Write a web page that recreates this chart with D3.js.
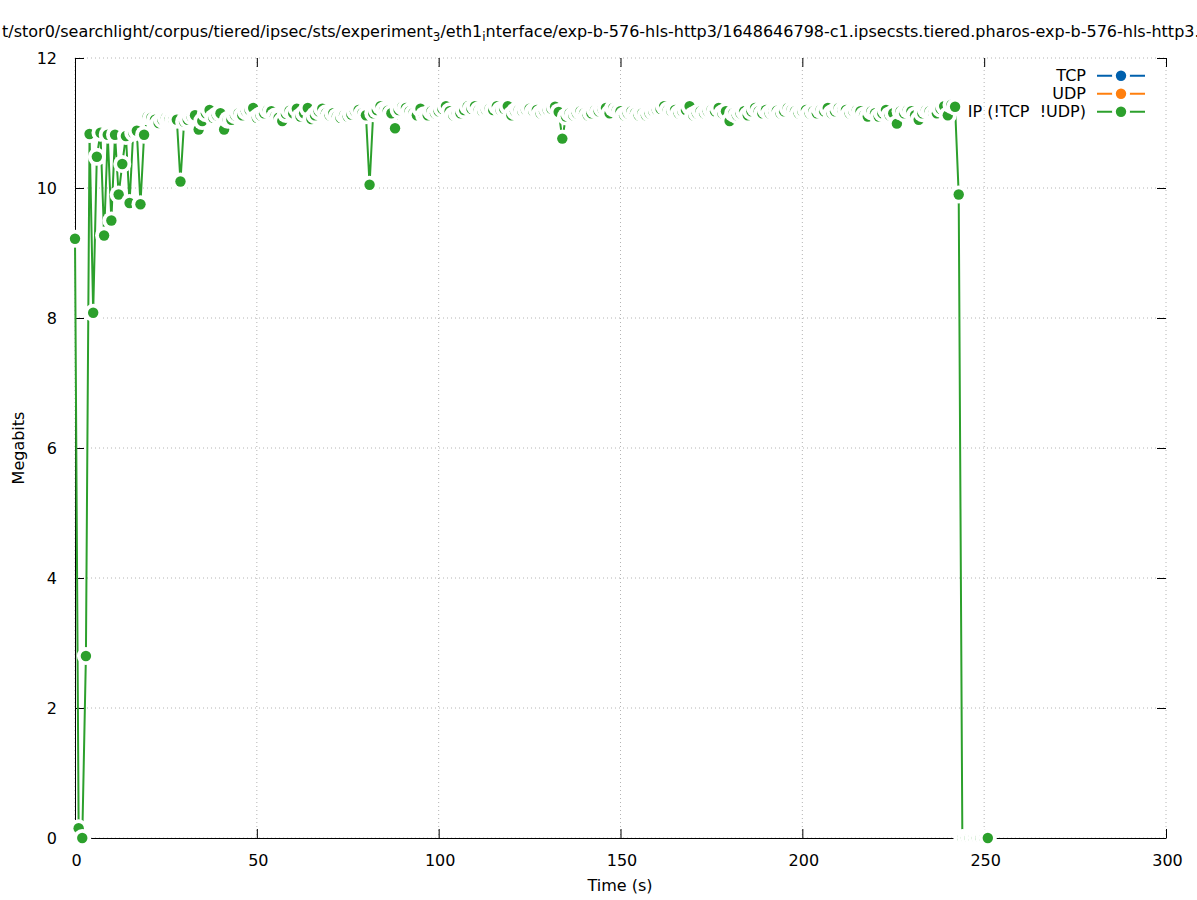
<!DOCTYPE html>
<html>
<head>
<meta charset="utf-8">
<script src="https://cdn.jsdelivr.net/npm/d3@7"></script>
<style>
  body { margin: 0; background: #fff; }
  text { font-family: "DejaVu Sans", sans-serif; font-size: 16px; fill: #000; }
</style>
</head>
<body>
<script>
// tick labels
var xTicks = [0, 50, 100, 150, 200, 250, 300];
var yTicks = [0, 2, 4, 6, 8, 10, 12];

// legend entries
var legendNames = ["TCP", "UDP", "IP (!TCP  !UDP)"];
var legendColors = ["#0060ad", "#ff7f0e", "#2ca02c"];

// IP (!TCP !UDP) throughput, one sample per second starting at t = 0
var ipMbits = [
  9.22, 0.15, 0, 2.8, 10.83, 8.08, 10.48, 10.85, 9.27, 10.82,
  9.5, 10.82, 9.9, 10.37, 10.8, 9.77, 10.85, 10.88, 9.75, 10.82,
  11.1, 11.08, 11.05, 11.0, 11.05, 11.08, 11.06, 11.05, 11.05, 10.1,
  11.02, 11.05, 11.1, 11.12, 10.9, 11.03, 11.15, 11.2, 11.08, 11.12,
  11.15, 10.9, 11.05, 11.05, 11.12, 11.15, 11.12, 11.18, 11.2, 11.23,
  11.08, 11.12, 11.15, 11.2, 11.18, 11.1, 11.08, 11.03, 11.14, 11.19,
  11.15, 11.22, 11.1, 11.15, 11.23, 11.06, 11.12, 11.18, 11.22, 11.15,
  11.12, 11.15, 11.1, 11.08, 11.12, 11.1, 11.13, 11.18, 11.2, 11.15,
  11.12, 10.05, 11.15, 11.2, 11.26, 11.2, 11.19, 11.15, 10.92, 11.2,
  11.25, 11.23, 11.18, 11.15, 11.12, 11.22, 11.12, 11.12, 11.18, 11.15,
  11.18, 11.22, 11.26, 11.18, 11.12, 11.15, 11.15, 11.2, 11.26, 11.22,
  11.26, 11.2, 11.18, 11.2, 11.22, 11.2, 11.26, 11.2, 11.22, 11.26,
  11.12, 11.18, 11.2, 11.18, 11.2, 11.22, 11.18, 11.2, 11.15, 11.18,
  11.2, 11.22, 11.25, 11.17, 10.76, 11.1, 11.15, 11.12, 11.15, 11.18,
  11.15, 11.12, 11.15, 11.2, 11.18, 11.22, 11.23, 11.15, 11.23, 11.2,
  11.18, 11.12, 11.15, 11.18, 11.15, 11.12, 11.15, 11.12, 11.15, 11.18,
  11.2, 11.22, 11.26, 11.2, 11.18, 11.2, 11.15, 11.18, 11.2, 11.26,
  11.12, 11.15, 11.18, 11.15, 11.18, 11.2, 11.18, 11.23, 11.15, 11.18,
  11.03, 11.15, 11.12, 11.15, 11.18, 11.12, 11.18, 11.23, 11.18, 11.15,
  11.2, 11.15, 11.18, 11.19, 11.15, 11.18, 11.23, 11.2, 11.18, 11.15,
  11.18, 11.2, 11.15, 11.18, 11.15, 11.2, 11.18, 11.23, 11.15, 11.18,
  11.23, 11.2, 11.2, 11.15, 11.18, 11.2, 11.18, 11.12, 11.1, 11.18,
  11.15, 11.1, 11.15, 11.2, 11.12, 11.15, 10.99, 11.18, 11.15, 11.2,
  11.18, 11.12, 11.05, 11.15, 11.2, 11.18, 11.15, 11.15, 11.22, 11.26,
  11.12, 11.28, 11.25, 9.9, 0, 0, 0, 0, 0, 0,
  0, 0
];

// title pieces, [text, subscript?]
var titleParts = [
  ["t/stor0/searchlight/corpus/tiered/ipsec/sts/experiment", false],
  ["3", true],
  ["/eth1", false],
  ["i", true],
  ["nterface/exp-b-576-hls-http3/1648646798-c1.ipsecsts.tiered.pharos-exp-b-576-hls-http3.", false]
];

var margin = {top: 58, right: 31, bottom: 62, left: 75},
    width = 1197 - margin.left - margin.right,
    height = 900 - margin.top - margin.bottom;

var root = d3.select("body").append("svg")
    .attr("width", 1197)
    .attr("height", 900);

var svg = root.append("g")
    .attr("transform", "translate(" + margin.left + "," + margin.top + ")");

var x = d3.scaleLinear().domain([0, 300]).range([0, width]);
var y = d3.scaleLinear().domain([0, 12]).range([height, 0]);

var tickLen = 9;
var green = legendColors[2];

// grid (dotted)
var grid = svg.append("g").attr("stroke", "#b4b4b4").attr("stroke-width", 1)
    .attr("stroke-dasharray", "1,3");
grid.selectAll(".gx").data(xTicks).enter().append("line")
    .attr("x1", function(d) { return x(d); }).attr("x2", function(d) { return x(d); })
    .attr("y1", 0).attr("y2", height);
grid.selectAll(".gy").data(yTicks).enter().append("line")
    .attr("y1", function(d) { return y(d); }).attr("y2", function(d) { return y(d); })
    .attr("x1", 0).attr("x2", width);

// x axis (ticks inward) + mirror on top
svg.append("g")
    .attr("transform", "translate(0," + height + ")")
    .call(d3.axisBottom(x).tickValues(xTicks).tickSizeInner(-tickLen).tickSizeOuter(0).tickPadding(tickLen + 8))
    .call(function(g) {
      g.select(".domain").attr("stroke", "#000");
      g.selectAll("text").attr("font-size", 16).attr("font-family", "DejaVu Sans").attr("dx", 1);
    });
svg.append("g")
    .call(d3.axisTop(x).tickValues(xTicks).tickSizeInner(-tickLen).tickSizeOuter(0).tickFormat(""))
    .call(function(g) { g.select(".domain").remove(); });

// y axis + mirror on right
svg.append("g")
    .call(d3.axisLeft(y).tickValues(yTicks).tickSizeInner(-tickLen).tickSizeOuter(0).tickPadding(tickLen + 9))
    .call(function(g) {
      g.select(".domain").attr("stroke", "#000");
      g.selectAll("text").attr("font-size", 16).attr("font-family", "DejaVu Sans");
    });
svg.append("g")
    .attr("transform", "translate(" + width + ",0)")
    .call(d3.axisRight(y).tickValues(yTicks).tickSizeInner(-tickLen).tickSizeOuter(0).tickFormat(""))
    .call(function(g) { g.select(".domain").remove(); });

// the data line
var valueline = d3.line()
    .x(function(d, i) { return x(i); })
    .y(function(d) { return y(d); });

svg.append("path")
    .datum(ipMbits)
    .attr("fill", "none")
    .attr("stroke", green)
    .attr("stroke-width", 2)
    .attr("d", valueline);

// points: white box under each point erases the line, then the dot
var pts = svg.selectAll(".pt")
    .data(ipMbits)
  .enter().append("g")
    .attr("transform", function(d, i) { return "translate(" + x(i) + "," + y(d) + ")"; });
pts.append("circle").attr("r", 9).attr("fill", "#fff");
pts.append("circle").attr("r", 5.2).attr("fill", green);

// legend
var legend = root.append("g");
legendNames.forEach(function(name, i) {
  var ly = 75.7 + i * 18;
  legend.append("text")
      .attr("x", 1086).attr("y", ly + 5.5)
      .attr("text-anchor", "end")
      .style("white-space", "pre")
      .text(name);
  legend.append("line")
      .attr("x1", 1097).attr("x2", 1145).attr("y1", ly).attr("y2", ly)
      .attr("stroke", legendColors[i]).attr("stroke-width", 2);
  legend.append("circle").attr("cx", 1121).attr("cy", ly).attr("r", 9).attr("fill", "#fff");
  legend.append("circle").attr("cx", 1121).attr("cy", ly).attr("r", 5.2).attr("fill", legendColors[i]);
});

// title
var title = root.append("text").attr("x", 2).attr("y", 37);
titleParts.forEach(function(p) {
  if (p[1]) {
    title.append("tspan").attr("dy", 4).attr("font-size", 12).text(p[0]);
  } else {
    title.append("tspan").attr("dy", 0).text(p[0]);
  }
});
// undo subscript shifts
title.selectAll("tspan").each(function(d, i) {
  var sub = titleParts[i][1];
  var prevSub = i > 0 && titleParts[i - 1][1];
  d3.select(this).attr("dy", sub ? 4 : (prevSub ? -4 : 0));
});

// axis labels
root.append("text")
    .attr("transform", "translate(24,448) rotate(-90)")
    .attr("text-anchor", "middle")
    .text("Megabits");
root.append("text")
    .attr("x", 620).attr("y", 891)
    .attr("text-anchor", "middle")
    .text("Time (s)");
</script>
</body>
</html>
